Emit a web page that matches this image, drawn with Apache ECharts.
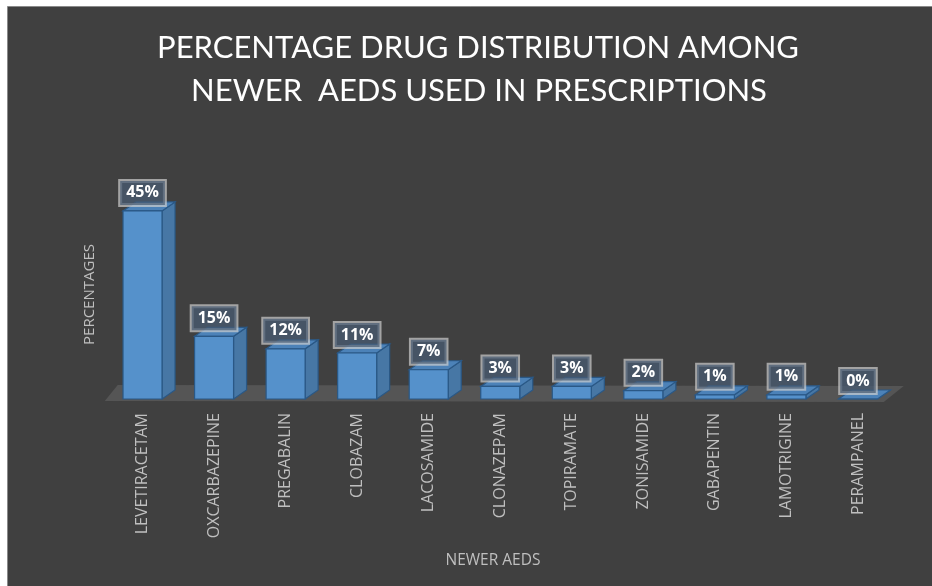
<!DOCTYPE html>
<html>
<head>
<meta charset="utf-8">
<script src="https://cdn.jsdelivr.net/npm/echarts@6/dist/echarts.min.js"></script>
<style>html,body{margin:0;padding:0;background:#fff;}#c{width:932px;height:586px;}</style>
</head>
<body>
<div id="c"></div>
<script>
const categories = ['LEVETIRACETAM','OXCARBAZEPINE','PREGABALIN','CLOBAZAM','LACOSAMIDE','CLONAZEPAM','TOPIRAMATE','ZONISAMIDE','GABAPENTIN','LAMOTRIGINE','PERAMPANEL'];
const values = [45, 15, 12, 11, 7, 3, 3, 2, 1, 1, 0];
const titleLines = ['PERCENTAGE DRUG DISTRIBUTION AMONG', 'NEWER  AEDS USED IN PRESCRIPTIONS'];

const chart = echarts.init(document.getElementById('c'), null, {renderer:'canvas'});
const DX = 13, DY = -9, HALF = 19.5;

function barItem(params, api) {
  const i = api.value(0), v = api.value(1);
  const top = api.coord([i, v]);
  const base = api.coord([i, 0]);
  const xl = top[0] - HALF, xr = top[0] + HALF;
  const yt = top[1], yb = base[1];
  const stroke = '#2a5886';
  return {
    type: 'group',
    children: [
      {type:'polygon', shape:{points:[[xr,yb],[xr+DX,yb+DY],[xr+DX,yt+DY],[xr,yt]]},
        style:{fill:'#4777a5', stroke:stroke, lineWidth:1.2}},
      {type:'polygon', shape:{points:[[xl,yt],[xr,yt],[xr+DX,yt+DY],[xl+DX,yt+DY]]},
        style:{fill:'#4c82b8', stroke:stroke, lineWidth:1.2}},
      {type:'rect', shape:{x:xl, y:yt, width:xr-xl, height:yb-yt},
        style:{fill:'#5591cb', stroke:stroke, lineWidth:1.2}},
      {type:'text', z2: 10, style:{
        text: Math.round(v) + '%', x: top[0], y: yt - 6, align:'center', verticalAlign:'bottom',
        fill:'#ffffff', font:'bold 16px "Open Sans", sans-serif',
        backgroundColor:'rgba(72,92,115,0.72)', borderColor:'rgba(205,205,205,0.7)', borderWidth:2,
        padding:[4,6,4,6]
      }}
    ]
  };
}

function floorItem(params, api) {
  const cs = params.coordSys;
  const y = cs.y + cs.height;
  const x0 = cs.x - 2, x1 = cs.x + cs.width - 10;
  return {
    type:'polygon', silent:true,
    shape:{points:[[x0, y+2],[x1, y+3],[x1+20, y-13],[x0+13, y-14]]},
    style:{fill:'#555555'}
  };
}

chart.setOption({
  backgroundColor:'#ffffff',
  animation:false,
  graphic:[
    {type:'rect', z:-10, shape:{x:7.5, y:6.5, width:930, height:585}, style:{fill:'#404040', stroke:'#8a8a8a', lineWidth:1}},
    {type:'text', x:478, y:48, style:{text: titleLines[0], fill:'#ffffff', font:'31px Lato, sans-serif', align:'center', verticalAlign:'middle'}},
    {type:'text', x:479, y:91, style:{text: titleLines[1], fill:'#ffffff', font:'31px Lato, sans-serif', align:'center', verticalAlign:'middle'}},
    {type:'text', x:493, y:561, style:{text:'NEWER AEDS', fill:'#bfbfbf', font:'15.5px "Open Sans", sans-serif', align:'center', verticalAlign:'middle'}}
  ],
  grid:{left:106.75, right:38.25, top:190, bottom:187, containLabel:false},
  xAxis:{
    type:'category', data:categories,
    axisLine:{show:false}, axisTick:{show:false}, splitLine:{show:false},
    axisLabel:{rotate:90, color:'#bfbfbf', fontSize:16, fontFamily:'"Open Sans", sans-serif', margin:14}
  },
  yAxis:{
    type:'value', min:0, max:50,
    name:'PERCENTAGES', nameLocation:'middle', nameGap:10, nameRotate:90,
    nameTextStyle:{color:'#bfbfbf', fontSize:15, fontFamily:'"Open Sans", sans-serif'},
    axisLine:{show:false}, axisTick:{show:false}, axisLabel:{show:false}, splitLine:{show:false}
  },
  series:[
    {type:'custom', renderItem:floorItem, data:[[0,0]], z:1, silent:true},
    {type:'custom', renderItem:barItem, data:values.map((v,i)=>[i,v]), z:2, encode:{x:0,y:1}}
  ]
});
</script>
</body>
</html>
